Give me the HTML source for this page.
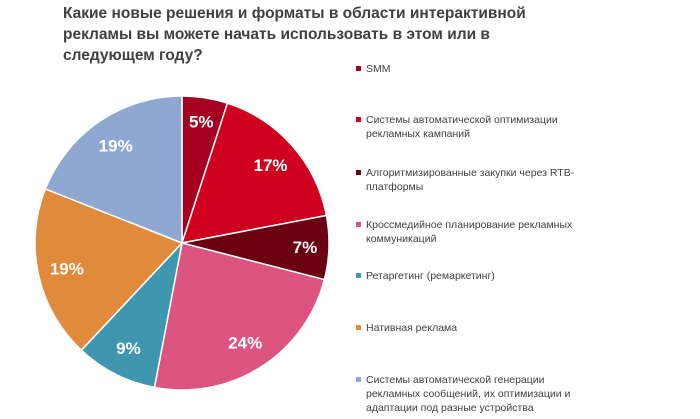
<!DOCTYPE html>
<html><head><meta charset="utf-8"><style>
body{margin:0;width:700px;height:419px;background:#fff;overflow:hidden;position:relative;font-family:"Liberation Sans","Noto Sans CJK SC",sans-serif}
#title{position:absolute;left:63px;top:3px;font-weight:bold;font-size:15.5px;line-height:21px;color:#404040;width:500px}
.leg{position:absolute;left:356px;font-size:10.5px;line-height:14px;color:#404040;width:210px;padding-left:10px}
.leg i{position:absolute;left:0;top:4px;width:5px;height:5px}
</style></head><body>
<div id="title">Какие новые решения и форматы в области интерактивной рекламы вы можете начать использовать в этом или в следующем году?</div>
<svg id="pie" width="700" height="419" style="position:absolute;left:0;top:0"></svg>
<div id="legend"></div>
<script>
const categories=["SMM","Системы автоматической оптимизации рекламных кампаний","Алгоритмизированные закупки через RTB-платформы","Кроссмедийное планирование рекламных коммуникаций","Ретаргетинг (ремаркетинг)","Нативная реклама","Системы автоматической генерации рекламных сообщений, их оптимизации и адаптации под разные устройства"];
const values=[5,17,7,24,9,19,19];
const colors=["#A50021","#D0001F","#6B0010","#DC5580","#3E97AF","#E08A3C","#8FA8D2"];
const legendTops=[62,113,166,218,269,321,373];
const cx=182,cy=243,r=147;
const svg=document.getElementById('pie');
const NS="http://www.w3.org/2000/svg";
const total=values.reduce((a,b)=>a+b,0);
let acc=0;
function pt(a,rr){return [cx+rr*Math.sin(a),cy-rr*Math.cos(a)];}
values.forEach((v,i)=>{
 const a0=acc/total*2*Math.PI;acc+=v;const a1=acc/total*2*Math.PI;
 const p0=pt(a0,r),p1=pt(a1,r);
 const path=document.createElementNS(NS,'path');
 path.setAttribute('d',`M${cx},${cy}L${p0[0]},${p0[1]}A${r},${r} 0 ${a1-a0>Math.PI?1:0} 1 ${p1[0]},${p1[1]}Z`);
 path.setAttribute('fill',colors[i]);path.setAttribute('stroke','#fff');path.setAttribute('stroke-width','1.5');
 
 
 svg.appendChild(path);
 const m=(a0+a1)/2;const lp=pt(m,v<8?123:118);
 const t=document.createElementNS(NS,'text');
 t.setAttribute('x',lp[0]);t.setAttribute('y',lp[1]+6);t.setAttribute('text-anchor','middle');
 t.setAttribute('fill','#fff');t.setAttribute('font-size','17');t.setAttribute('font-weight','bold');
 t.setAttribute('font-family','Liberation Sans, sans-serif');
 t.textContent=v+'%';
 
 
 svg.appendChild(t);
});
const lg=document.getElementById('legend');
categories.forEach((c,i)=>{
 const d=document.createElement('div');d.className='leg';d.style.top=legendTops[i]+'px';
 d.innerHTML='<i style="background:'+colors[i]+'"></i>'+c;
 
 
 lg.appendChild(d);
});
</script>
</body></html>
